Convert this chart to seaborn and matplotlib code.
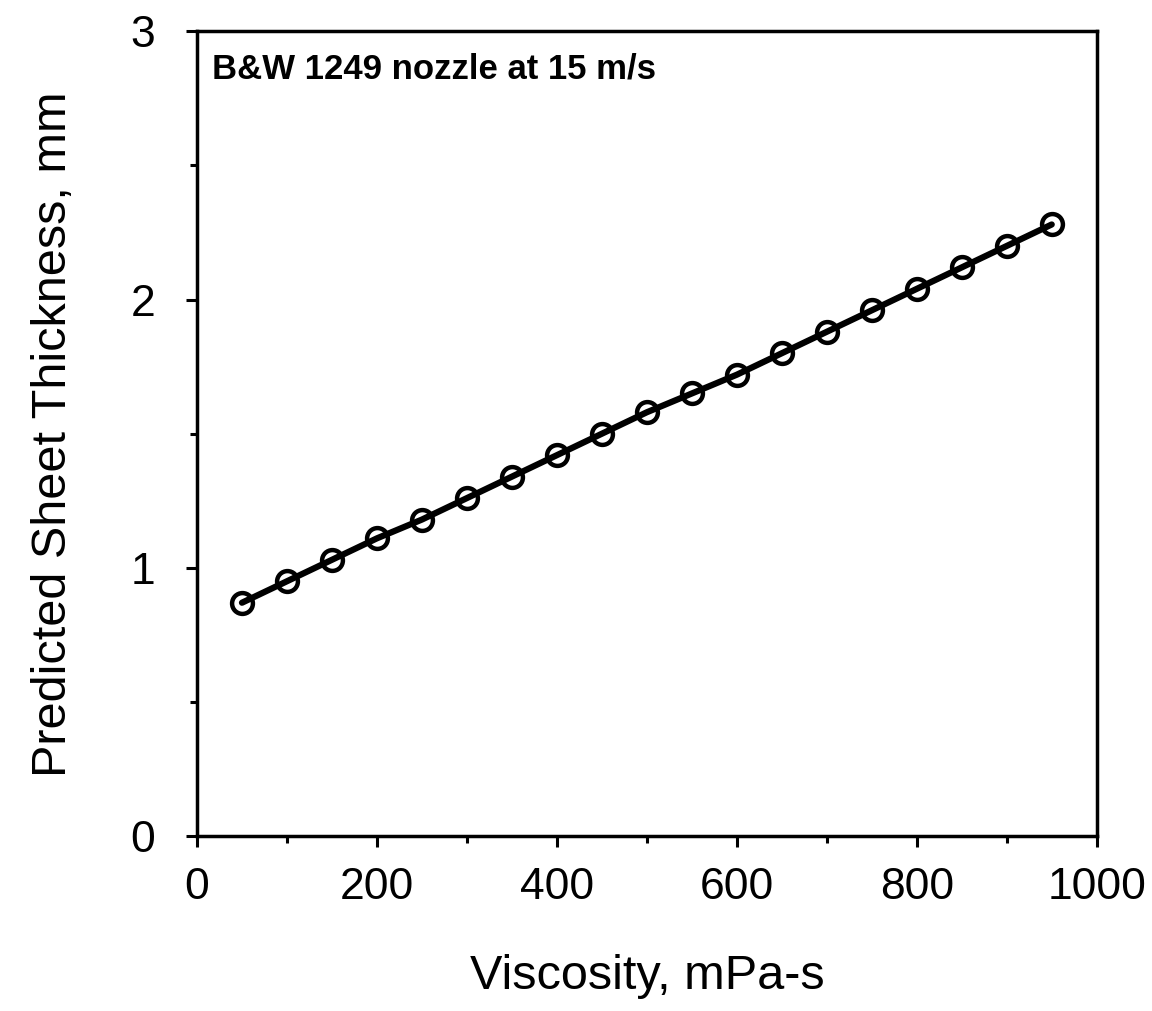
import matplotlib
matplotlib.use('Agg')
import matplotlib.pyplot as plt
import seaborn as sns
import pandas as pd
from matplotlib.ticker import MultipleLocator

#values
viscosity = [50, 100, 150, 200, 250, 300, 350, 400, 450, 500,
             550, 600, 650, 700, 750, 800, 850, 900, 950]
thickness = [0.87, 0.95, 1.03, 1.11, 1.18, 1.26, 1.34, 1.42, 1.50, 1.58,
             1.65, 1.72, 1.80, 1.88, 1.96, 2.04, 2.12, 2.20, 2.28]
x_ticks = [0, 200, 400, 600, 800, 1000]
y_ticks = [0, 1, 2, 3]
note = 'B&W 1249 nozzle at 15 m/s'

df = pd.DataFrame({'Viscosity': viscosity, 'Thickness': thickness})

sns.set_style('ticks')
plt.rcParams['font.family'] = ['Liberation Sans', 'DejaVu Sans']
plt.rcParams['text.color'] = 'black'
plt.rcParams['axes.labelcolor'] = 'black'

fig = plt.figure(figsize=(11.52, 10.11), dpi=100)
ax = fig.add_axes([0.171, 0.173, 0.781, 0.796])

sns.lineplot(data=df, x='Viscosity', y='Thickness', ax=ax, color='black',
             linewidth=4.5, marker='o', markersize=15, markerfacecolor='none',
             markeredgecolor='black', markeredgewidth=3.2)

ax.set_xlim(0, 1000)
ax.set_ylim(0, 3)
ax.set_xticks(x_ticks)
ax.set_yticks(y_ticks)
ax.xaxis.set_minor_locator(MultipleLocator(100))
ax.yaxis.set_minor_locator(MultipleLocator(0.5))
ax.tick_params(which='major', direction='out', length=8, width=2.2,
               labelsize=32, colors='black', labelcolor='black')
ax.tick_params(axis='x', which='major', pad=14)
ax.tick_params(axis='y', which='major', pad=22)
ax.tick_params(which='minor', direction='out', length=5, width=2.2, colors='black')

for side in ['top', 'right', 'bottom', 'left']:
  ax.spines[side].set_visible(True)
  ax.spines[side].set_linewidth(2.5)
  ax.spines[side].set_color('black')

ax.set_xlabel('Viscosity, mPa-s', fontsize=35, color='black')
ax.set_ylabel('Predicted Sheet Thickness, mm', fontsize=35, color='black')
ax.xaxis.set_label_coords(0.5, -0.147)
ax.yaxis.set_label_coords(-0.135, 0.5)

ax.text(0.017, 0.942, note, transform=ax.transAxes, fontsize=25,
        fontweight='bold', ha='left', va='baseline', color='black')

fig.savefig('out.png', dpi=100)
